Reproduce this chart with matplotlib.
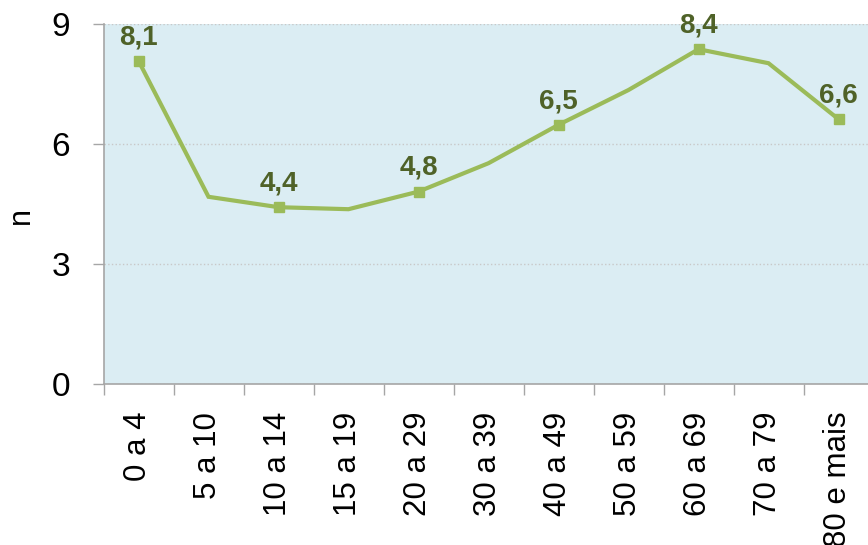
import numpy as np
import matplotlib.pyplot as plt

# age groups and values
age_groups = ["0 a 4", "5 a 10", "10 a 14", "15 a 19", "20 a 29", "30 a 39",
              "40 a 49", "50 a 59", "60 a 69", "70 a 79", "80 e mais"]
values = [8.08, 4.68, 4.42, 4.37, 4.81, 5.52, 6.48, 7.35, 8.37, 8.02, 6.62]
# which points carry a marker + label, and the label text
labelled = [0, 2, 4, 6, 8, 10]
label_text = ["8,1", "4,4", "4,8", "6,5", "8,4", "6,6"]
yticks = [0, 3, 6, 9]

plt.rcParams['font.family'] = ['Liberation Sans', 'DejaVu Sans']

line_col = '#9BBB59'
text_col = '#4F6228'
axis_col = '#A6A6A6'

fig = plt.figure(figsize=(8.68, 5.45), dpi=100)
ax = fig.add_axes([103.5 / 868, 1 - 384 / 545, 770 / 868, 360 / 545])
ax.set_facecolor('#DBEDF3')

x = np.arange(len(age_groups))
ax.plot(x, values, color=line_col, lw=3, solid_joinstyle='miter', zorder=3)
ax.plot(x[labelled], np.array(values)[labelled], ls='none', marker='s',
        ms=7, color=line_col, zorder=4)

for i, t in zip(labelled, label_text):
    ax.annotate(t, (x[i], values[i]), xytext=(0, 12), textcoords='offset points',
                ha='center', va='baseline', fontsize=20, fontweight='bold',
                color=text_col, zorder=5, annotation_clip=False)

ax.set_xlim(-0.5, len(age_groups) - 0.5)
ax.set_ylim(0, 9)
ax.set_yticks(yticks)
ax.set_yticklabels([str(v) for v in yticks])
ax.grid(axis='y', color='#C8C8C8', ls=':', lw=1, zorder=1)

# boundaries get the tick marks, centres get the labels
ax.set_xticks(x)
ax.set_xticklabels(age_groups, rotation=90, va='top', ha='center')
ax.set_xticks(np.arange(-0.5, len(age_groups), 1), minor=True)
ax.tick_params(axis='x', which='major', length=0, pad=20, labelsize=22.5)
ax.tick_params(axis='x', which='minor', length=8, width=1, color=axis_col, direction='out')
ax.tick_params(axis='y', length=8, width=1, color=axis_col, pad=16, labelsize=24)

for s in ['top', 'right']:
    ax.spines[s].set_visible(False)
for s in ['left', 'bottom']:
    ax.spines[s].set_color(axis_col)
    ax.spines[s].set_linewidth(1.2)

fig.text(21 / 868, 1 - 215 / 545, 'n', rotation=90, fontsize=22,
         ha='center', va='center')

fig.savefig('out.png', dpi=100)
